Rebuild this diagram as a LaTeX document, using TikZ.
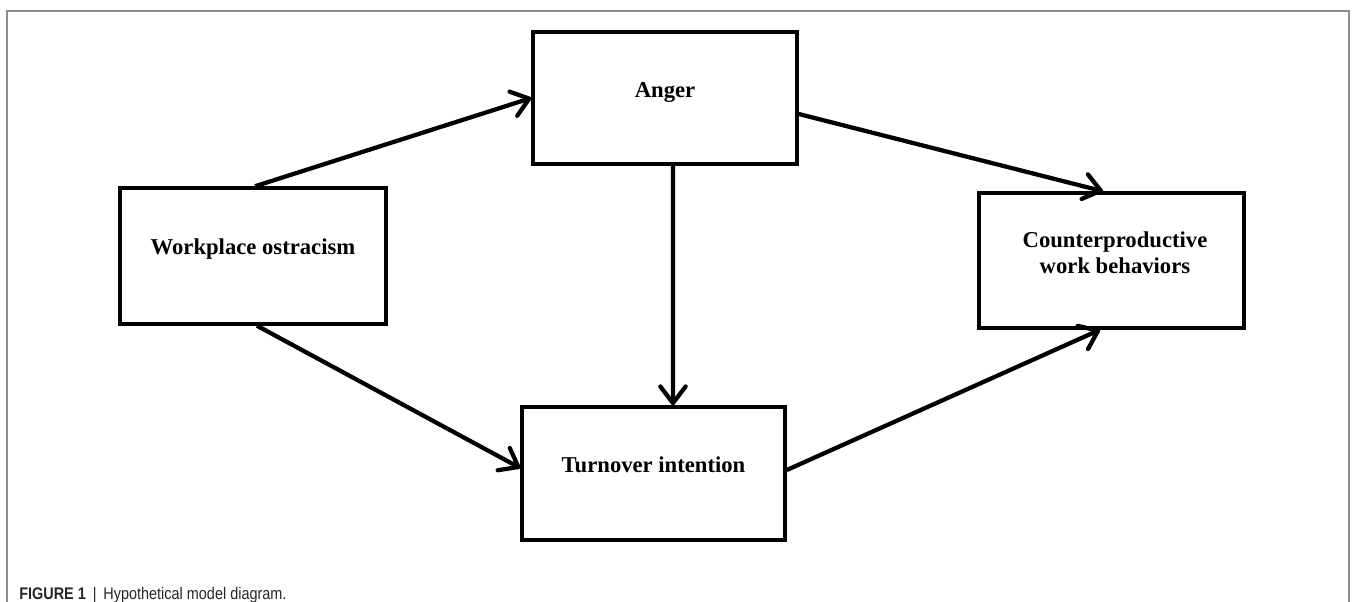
\documentclass[tikz,border=0pt]{standalone}
\usepackage{fontspec}
\usepackage{graphicx}
\setmainfont{Liberation Serif}
\newfontfamily\capfont{Liberation Sans}
\usetikzlibrary{arrows.meta}
\begin{document}
\begin{tikzpicture}[x=0.75pt,y=-0.75pt,
  box/.style={draw=black, line width=2.6pt, rectangle, inner sep=0pt, fill=white},
  lbl/.style={font=\fontsize{17}{19.5}\selectfont\bfseries, text=black, align=center, inner sep=0pt},
  onel/.style={text height=11.9pt, text depth=4.25pt},
  conn/.style={line width=3.2pt, -{Straight Barb[length=12.5pt,width=19pt,round]}},
  framel/.style={draw=black!45, line width=1.1pt}]
\useasboundingbox (0,0) rectangle (1355,602);
\draw[framel] (7,602) -- (7,11) -- (1349,11) -- (1349,602);

\node[box, minimum width=198pt, minimum height=99pt,
  label={[lbl, onel, yshift=4.5pt, name=angerT]center:Anger}] (anger) at (665,98) {};
\node[box, minimum width=199.5pt, minimum height=102pt,
  label={[lbl, onel, yshift=5.25pt, name=woT]center:Workplace ostracism}] (wo) at (253,256) {};
\node[box, minimum width=197.25pt, minimum height=99.75pt,
  label={[lbl, onel, yshift=4.9pt, name=turnT]center:Turnover intention}] (turn) at (653.5,473.5) {};
\node[box, minimum width=198.75pt, minimum height=101.25pt,
  label={[lbl, xshift=2.6pt, yshift=5.5pt, name=cwbT]center:Counterproductive\\work behaviors}] (cwb) at (1111.5,260.5) {};

\draw[conn] ([xshift=1.5pt]wo.north) -- (anger.west);
\draw[conn] ([yshift=-12pt]anger.east) -- ([xshift=-6.4pt]cwb.north);
\draw[conn] ([xshift=6pt]anger.south) -- ([xshift=14.6pt]turn.north);
\draw[conn] ([xshift=3pt]wo.south) -- ([yshift=4.1pt]turn.west);
\draw[conn] ([yshift=2.6pt]turn.east) -- ([xshift=-8.6pt]cwb.south);

\node[anchor=base west, inner sep=0pt, text=black!85] (cap) at (19,599)
  {\scalebox{0.86}[1]{\capfont\fontsize{12.6}{15}\selectfont\textbf{FIGURE 1}\hspace{6pt}|\hspace{6pt}Hypothetical model diagram.}};
\end{tikzpicture}
\end{document}
